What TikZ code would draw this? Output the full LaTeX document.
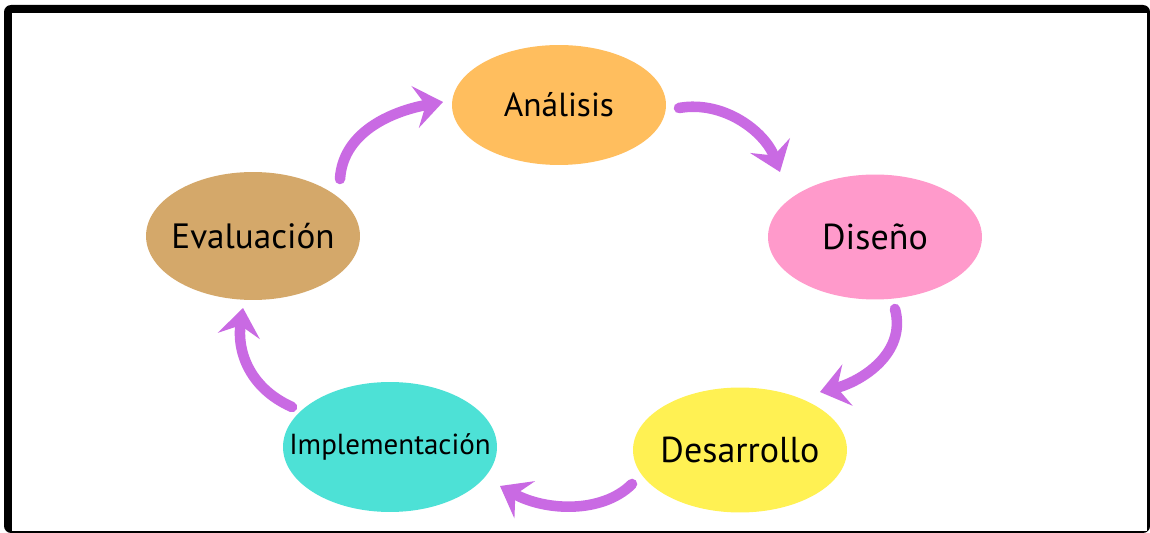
\documentclass[tikz,border=0pt]{standalone}
\usepackage{fontspec}
\setmainfont{PT Sans}
\usetikzlibrary{arrows.meta,shapes.geometric}

\definecolor{anacol}{HTML}{FFBE5E}
\definecolor{discol}{HTML}{FF9ACB}
\definecolor{descol}{HTML}{FFF153}
\definecolor{impcol}{HTML}{4DE1D6}
\definecolor{evacol}{HTML}{D4A86A}
\definecolor{arcol}{HTML}{C96AE3}

\newcommand{\phtext}[2]{\makebox[0pt]{\fontsize{#1}{#1}\selectfont #2}}

\begin{document}
\begin{tikzpicture}[x=0.02cm,y=-0.02cm]
   \tikzstyle{ph}=[ellipse,inner sep=0pt,minimum width=4.28cm,minimum height=2.5cm]
   \tikzstyle{ar}=[arcol,line width=6pt,line cap=round,
                   -{Stealth[length=16pt,width=24pt,inset=6pt]}]

   \useasboundingbox (0,0) rectangle (1150,533);
   % frame
   \fill[black,rounded corners=4pt] (4,5) rectangle (1150,533);
   \fill[white] (12,13) rectangle (1147,531);

   \node (ana) [ph,fill=anacol,minimum height=2.4cm] at (559,105) {\phtext{19}{Análisis}};
   \node (dis) [ph,fill=discol] at (875,237) {\phtext{20.5}{Diseño}};
   \node (des) [ph,fill=descol] at (740,450) {\phtext{20.5}{Desarrollo}};
   \node (imp) [ph,fill=impcol,minimum height=2.6cm] at (390,447) {\phtext{16.5}{Implementación}};
   \node (eva) [ph,fill=evacol,minimum height=2.56cm] at (253,236) {\phtext{20}{Evaluación}};

   \draw[ar] ([shift={(120,3)}]ana.center) .. controls +(45,-8) and +(-15,-40) ..
             ([shift={(-95,-65)}]dis.center);
   \draw[ar] ([shift={(20,72)}]dis.center) .. controls +(12,45) and +(40,-10) ..
             ([shift={(80,-58)}]des.center);
   \draw[ar] ([shift={(-108,34)}]des.center) .. controls +(-30,30) and +(45,25) ..
             ([shift={(110,39)}]imp.center);
   \draw[ar] ([shift={(-98,-40)}]imp.center) .. controls +(-45,-20) and +(-6,40) ..
             ([shift={(-10,72)}]eva.center);
   \draw[ar] ([shift={(87,-57)}]eva.center) .. controls +(3,-50) and +(-45,8) ..
             ([shift={(-116,-3)}]ana.center);
\end{tikzpicture}
\end{document}
